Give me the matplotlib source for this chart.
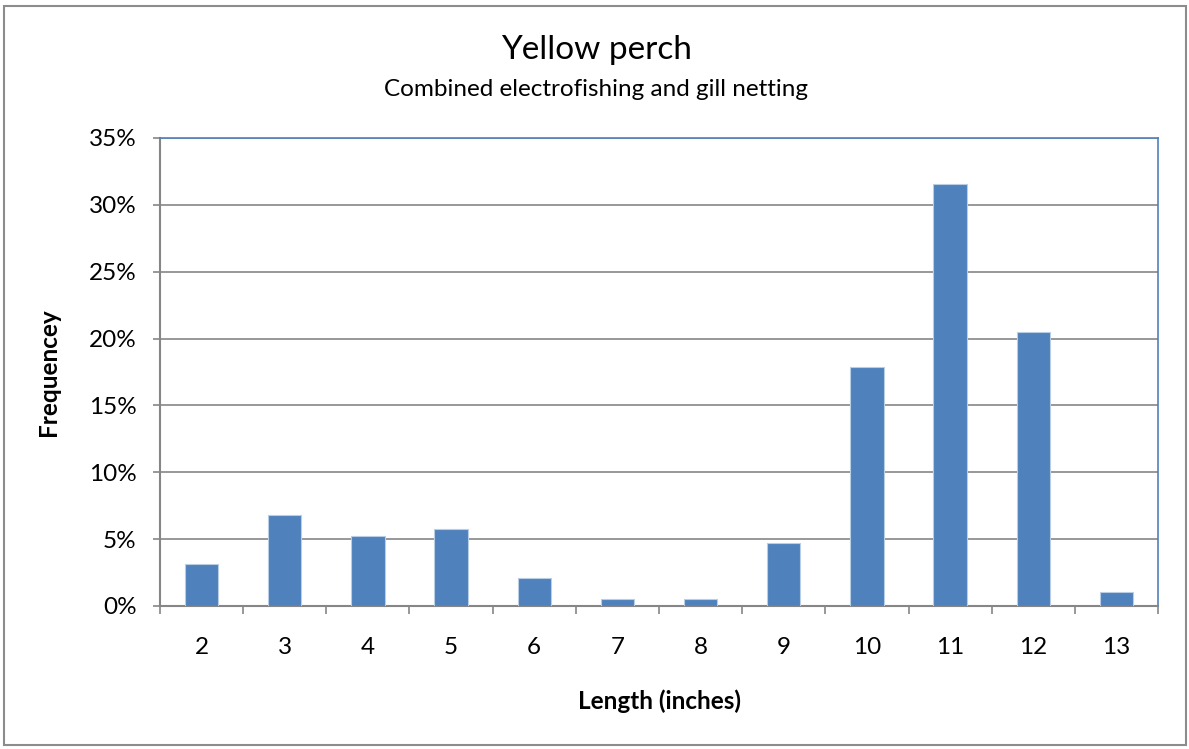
import numpy as np
import matplotlib
matplotlib.use("Agg")
import matplotlib.pyplot as plt
import matplotlib.patches as patches
from matplotlib.ticker import FuncFormatter

# Data
lengths = ["2", "3", "4", "5", "6", "7", "8", "9", "10", "11", "12", "13"]
freq = [3.14, 6.8, 5.24, 5.76, 2.09, 0.52, 0.52, 4.71, 17.9, 31.55, 20.5, 1.05]
yticks = [0, 5, 10, 15, 20, 25, 30, 35]

plt.rcParams['font.family'] = ['Lato', 'DejaVu Sans']

fig = plt.figure(figsize=(11.89, 7.49), dpi=100)
W, H = 1189, 749

# outer chart frame
fig.patches.append(patches.Rectangle((4 / W, 4 / H), 1182 / W, 739 / H, transform=fig.transFigure,
                                     fill=False, edgecolor='#8c8c8c', linewidth=1.5))

ax = fig.add_axes([160 / W, 1 - 606 / H, 998 / W, 468 / H])

x = np.arange(len(lengths))
ax.bar(x, freq, width=0.4, color='#4F81BD', edgecolor='#b9cde5', linewidth=0.8, zorder=3)

ax.set_xlim(-0.5, len(lengths) - 0.5)
ax.set_ylim(0, 35)
ax.set_yticks(yticks)
ax.yaxis.set_major_formatter(FuncFormatter(lambda v, p: f"{int(v)}%"))
ax.set_xticks(x)
ax.set_xticklabels(lengths)
ax.set_xticks(np.arange(-0.5, len(lengths)), minor=True)

ax.grid(axis='y', color='#868686', linewidth=1.2, zorder=1)
ax.tick_params(axis='y', which='major', length=5, width=1.2, color='#868686', labelsize=17.5, pad=12)
ax.tick_params(axis='x', which='major', length=0, labelsize=17.5, pad=22)
ax.tick_params(axis='x', which='minor', length=6, width=1.2, color='#868686')

for s in ['left', 'bottom']:
    ax.spines[s].set_color('#868686')
    ax.spines[s].set_linewidth(1.5)
for s in ['top', 'right']:
    ax.spines[s].set_color('#4F81BD')
    ax.spines[s].set_linewidth(1.2)

ax.set_ylabel("Frequencey", fontsize=17.5, fontweight='bold', va='center')
ax.set_xlabel("Length (inches)", fontsize=17.5, fontweight='bold', va='center')
ax.yaxis.set_label_coords((48 - 160) / 998, 0.5)
ax.xaxis.set_label_coords(0.5, (606 - 701) / 468)

fig.text(596 / W, 1 - 50 / H, "Yellow perch", ha='center', va='center', fontsize=24)
fig.text(596 / W, 1 - 90 / H, "Combined electrofishing and gill netting", ha='center', va='center', fontsize=17.5)

fig.savefig("out.png", dpi=100)
